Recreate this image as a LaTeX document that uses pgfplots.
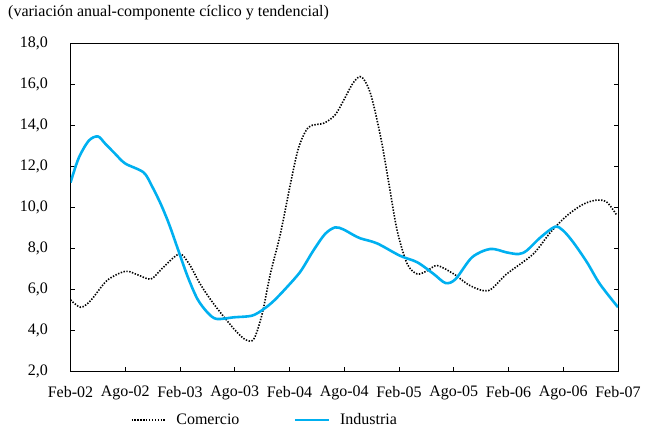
\documentclass[border=0pt]{standalone}
\usepackage{pgfplots}
\pgfplotsset{compat=1.18}
\usepackage{fontspec}
\setmainfont{Liberation Serif}
\definecolor{indcyan}{RGB}{0,176,240}
\begin{document}
\begin{tikzpicture}
\useasboundingbox (0,0) rectangle (653pt,429pt);
\node[anchor=base west, font=\fontsize{16}{19}\selectfont, inner sep=0pt] at (8pt,412pt) {(variación anual-componente cíclico y tendencial)};
\begin{axis}[
  at={(70.5pt,57.5pt)}, anchor=south west,
  scale only axis, width=547.5pt, height=328.5pt,
  xmin=0, xmax=60, ymin=2, ymax=18,
  xtick={0,6,...,60},
  xticklabels={Feb-02,Ago-02,Feb-03,Ago-03,Feb-04,Ago-04,Feb-05,Ago-05,Feb-06,Ago-06,Feb-07},
  ytick={2,4,...,18},
  yticklabel style={/pgf/number format/fixed, /pgf/number format/fixed zerofill, /pgf/number format/precision=1, /pgf/number format/use comma, xshift=-19pt},
  /pgf/number format/assume math mode=true,
  tick label style={font=\fontsize{16}{19}\selectfont},
  xticklabel style={yshift=-11pt},
  tick align=inside, major tick length=4.5pt,
  xtick pos=bottom, ytick pos=both,
  tick style={black, line width=0.8pt},
  axis line style={black, line width=0.9pt},
  legend columns=2,
  legend style={at={(0.355,-0.148)}, anchor=center, draw=none, fill=none,
    font=\fontsize{16}{19}\selectfont,
    /tikz/every odd column/.append style={column sep=8pt},
    /tikz/every even column/.append style={column sep=52pt}},
  legend image code/.code={\draw[#1] (0pt,0pt) -- (34pt,0pt);},
]
\addplot[black, line width=1.6pt, dash pattern=on 1.4pt off 1.5pt, smooth, tension=0.5] coordinates {
(0,5.49) (1.1,5.13) (2.2,5.45) (4,6.43) (6,6.88) (7.3,6.72) (8.8,6.5) (10,7.0) (11.9,7.72) (13,7.24) (14.2,6.27) (15.7,5.29) (17.9,4.08) (19.2,3.54) (20.1,3.59) (21,4.8) (21.9,6.75) (23,8.7) (24.1,11.13) (25,12.9) (26.1,13.9) (27.8,14.1) (29,14.5) (29.9,15.18) (31,16.07) (31.9,16.35) (32.9,15.5) (34,13.4) (34.9,11.13) (35.8,8.86) (36.9,7.24) (38,6.75) (39.1,6.91) (40.2,7.16) (42,6.75) (43.8,6.18) (45.8,5.94) (47.8,6.75) (50.7,7.72) (52.6,8.78) (54.4,9.59) (56.2,10.15) (57.7,10.35) (58.8,10.24) (59.9,9.59)
};
\addlegendentry{Comercio}
\addplot[indcyan, line width=2.6pt, smooth, tension=0.5] coordinates {
(0,11.2) (0.9,12.4) (2,13.24) (3,13.45) (3.8,13.1) (4.9,12.6) (6,12.13) (8,11.7) (8.9,11.05) (9.9,10.15) (10.8,9.18) (11.7,8.05) (12.8,6.67) (13.9,5.54) (15,4.88) (16,4.56) (17.9,4.64) (19.9,4.72) (21.2,5.05) (22.3,5.45) (23.7,6.1) (25.2,6.87) (26.6,7.88) (27.9,8.7) (29,9.02) (29.9,8.92) (31,8.65) (31.8,8.48) (33.6,8.24) (36.1,7.64) (38,7.32) (39.8,6.75) (41.1,6.31) (42.2,6.5) (44,7.56) (46,7.97) (47.8,7.8) (49.1,7.72) (50,7.89) (51.5,8.53) (53.1,9.05) (54,8.86) (55.1,8.29) (56.6,7.32) (58,6.27) (60,5.13)
};
\addlegendentry{Industria}
\end{axis}
\end{tikzpicture}
\end{document}
